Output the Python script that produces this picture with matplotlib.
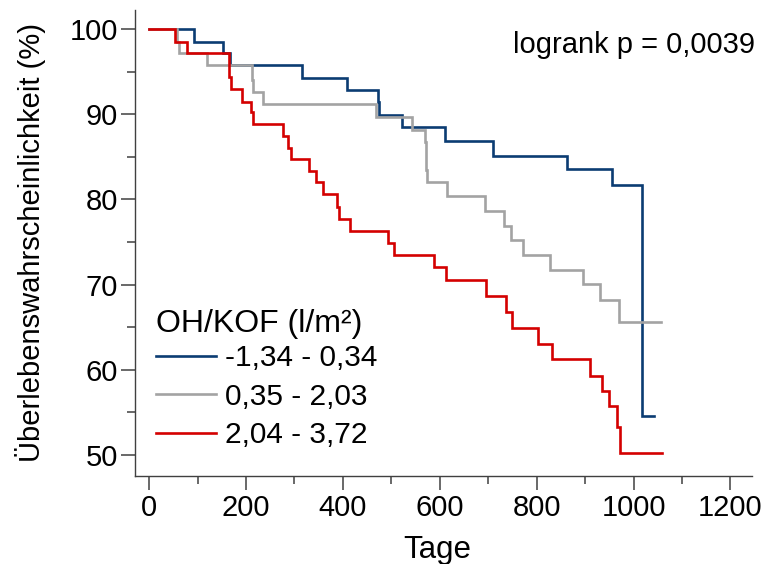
import matplotlib
matplotlib.use("Agg")
import matplotlib.pyplot as plt
from matplotlib.ticker import MultipleLocator

plt.rcParams['font.family'] = ['Liberation Sans', 'DejaVu Sans']

# Kaplan-Meier step data (time in days, survival in %)
blue_t = [0, 93, 152, 167, 316, 409, 473, 474.5, 523, 611, 710, 862.5, 955, 1018]
blue_s = [100, 98.55, 97.18, 95.8, 94.24, 92.87, 91.5, 89.93, 88.5, 86.9, 85.1, 83.6, 81.7, 54.5]
blue_end = 1043

gray_t = [0, 58, 61, 119, 211.7, 213.8, 234.4, 468, 543, 570.5, 572.5, 574.5, 615, 694, 733,
          748, 772, 828, 895, 930, 969]
gray_s = [100, 98.55, 97.18, 95.8, 94.04, 92.67, 91.2, 89.74, 88.2, 86.7, 83.5, 82.07, 80.42,
          78.7, 76.93, 75.2, 73.5, 71.75, 70.05, 68.2, 65.6]
gray_end = 1056

red_t = [0, 53.6, 79, 165.6, 168.4, 192, 210, 214, 277, 287, 292, 330, 344, 360, 387, 391, 414,
         493, 506, 589, 612, 696, 737.5, 749, 803, 832, 911, 935, 948.5, 966, 972.6]
red_s = [100, 98.47, 97.18, 94.43, 92.95, 91.5, 90.3, 88.9, 87.5, 86.0, 84.7, 83.4, 82.0, 80.6,
         79.1, 77.7, 76.3, 74.9, 73.5, 72.1, 70.5, 68.6, 66.8, 64.95, 63.0, 61.3, 59.3, 57.5,
         55.7, 53.25, 50.2]
red_end = 1059

labels = ['-1,34 - 0,34', '0,35 - 2,03', '2,04 - 3,72']
colors = ['#0b3c72', '#a3a3a3', '#d40000']
legend_title = 'OH/KOF (l/m²)'
pvalue_text = 'logrank p = 0,0039'

fig = plt.figure(figsize=(7.66, 5.64), dpi=100)
ax = fig.add_axes([135 / 766, 88 / 564, 617.3 / 766, 466 / 564])

series = [(blue_t, blue_s, blue_end), (gray_t, gray_s, gray_end), (red_t, red_s, red_end)]
for (t, s, end), lab, c in zip(series, labels, colors):
    ax.step(list(t) + [end], list(s) + [s[-1]], where='post', color=c, lw=1.9, label=lab,
            solid_joinstyle='miter')

ax.set_xlim(-29, 1245)
ax.set_ylim(47.5, 102.27)
ax.xaxis.set_major_locator(MultipleLocator(200))
ax.xaxis.set_minor_locator(MultipleLocator(100))
ax.yaxis.set_major_locator(MultipleLocator(10))
ax.yaxis.set_minor_locator(MultipleLocator(5))

for sp in ['top', 'right']:
    ax.spines[sp].set_visible(False)
for sp in ['left', 'bottom']:
    ax.spines[sp].set_color('#404040')
    ax.spines[sp].set_linewidth(1.0)

ax.tick_params(axis='both', which='major', length=10, width=1.1, color='#404040',
               labelsize=21, pad=3, direction='out')
ax.tick_params(axis='y', which='major', pad=2)
ax.tick_params(axis='both', which='minor', length=6, width=1.1, color='#404040', direction='out')

ax.set_xlabel('Tage', fontsize=22.5)
ax.xaxis.set_label_coords(0.489, -0.127)
ax.xaxis.label.set_va('top')
ax.set_ylabel('Überlebenswahrscheinlichkeit (%)', fontsize=21, labelpad=17)

leg = ax.legend(title=legend_title, loc='lower left', bbox_to_anchor=(0.0, 0.013),
                frameon=False, fontsize=21.5, title_fontsize=23, handlelength=2.0,
                handletextpad=0.33, labelspacing=0.35, borderaxespad=0.3)
leg._legend_box.align = 'left'
leg._legend_box.sep = 4

fig.text(755 / 766, 1 - 45 / 564, pvalue_text, ha='right', va='center', fontsize=21)

fig.savefig('out.png', dpi=100)
